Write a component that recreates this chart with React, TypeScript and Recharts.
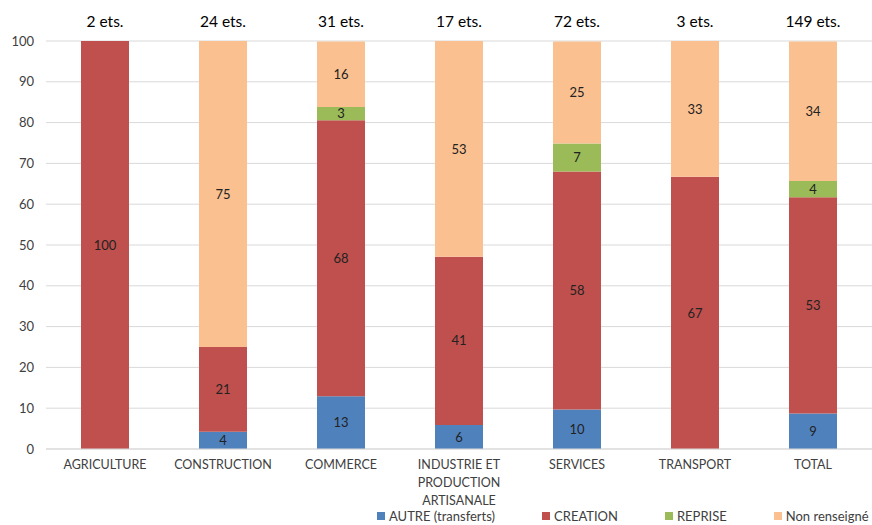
import React from 'react';
import { BarChart, Bar, XAxis, YAxis, CartesianGrid, Legend, LabelList } from 'recharts';

const categories = ['AGRICULTURE', 'CONSTRUCTION', 'COMMERCE', 'INDUSTRIE ET PRODUCTION ARTISANALE', 'SERVICES', 'TRANSPORT', 'TOTAL'];
const counts = [2, 24, 31, 17, 72, 3, 149];
const autre = [0, 4.2, 12.9, 5.9, 9.7, 0, 8.7];
const creation = [100, 20.8, 67.7, 41.2, 58.3, 66.7, 53.0];
const reprise = [0, 0, 3.2, 0, 6.9, 0, 4.0];
const nonRenseigne = [0, 75, 16.1, 52.9, 25, 33.3, 34.2];
const yTicks = [0, 10, 20, 30, 40, 50, 60, 70, 80, 90, 100];

const series = [
  { key: 'autre', name: 'AUTRE (transferts)', color: '#4F81BD' },
  { key: 'creation', name: 'CREATION', color: '#C0504D' },
  { key: 'reprise', name: 'REPRISE', color: '#9BBB59' },
  { key: 'nonRenseigne', name: 'Non renseigné', color: '#FAC090' },
];

const chartData = categories.map((cat, i) => ({
  name: cat,
  ets: counts[i] + ' ets.',
  autre: autre[i],
  creation: creation[i],
  reprise: reprise[i],
  nonRenseigne: nonRenseigne[i],
}));

const FONT = 'Lato, "Open Sans", sans-serif';

// libellés de catégorie sur plusieurs lignes
const CategoryTick = (props: any) => {
  const { x, y, payload } = props;
  const lines: string[] = payload.value === 'INDUSTRIE ET PRODUCTION ARTISANALE'
    ? ['INDUSTRIE ET', 'PRODUCTION', 'ARTISANALE']
    : [payload.value];
  return (
    <text x={x} y={y} textAnchor="middle" fill="#404040" fontSize={12.5} fontFamily={FONT}>
      {lines.map((l, i) => (
        <tspan key={i} x={x} dy={i === 0 ? 12 : 18}>{l}</tspan>
      ))}
    </text>
  );
};

const renderLegend = () => (
  <div style={{ display: 'flex', whiteSpace: 'nowrap', paddingLeft: 377, fontFamily: FONT, fontSize: 13, color: '#404040', lineHeight: '18px' }}>
    {series.map((s) => (
      <div key={s.key} style={{ display: 'flex', alignItems: 'center', marginRight: 47 }}>
        <span style={{ width: 8, height: 8, background: s.color, display: 'inline-block', marginRight: 4 }} />
        <span>{s.name}</span>
      </div>
    ))}
  </div>
);

const fmt = (v: any) => (v && v > 0 ? Math.round(v) : '');

export default function App() {
  return (
    <div style={{ position: 'absolute', left: 0, top: 0, background: '#fff' }}>
      <BarChart
        width={872}
        height={525}
        data={chartData}
        barCategoryGap={35}
        margin={{ top: 5, right: 0, left: 0, bottom: 0 }}
      >
        <CartesianGrid vertical={false} stroke="#d9d9d9" />
        <XAxis
          dataKey="name"
          xAxisId={0}
          interval={0}
          height={58}
          tickLine={false}
          axisLine={{ stroke: '#d9d9d9' }}
          tick={<CategoryTick />}
        />
        <XAxis
          dataKey="ets"
          xAxisId="top"
          orientation="top"
          interval={0}
          height={36}
          tickLine={false}
          axisLine={false}
          tickMargin={8}
          tick={{ fill: '#000', fontSize: 15.5, fontFamily: FONT }}
        />
        <YAxis
          domain={[0, 100]}
          ticks={yTicks}
          width={46}
          tickLine={false}
          axisLine={false}
          tickSize={0}
          tickMargin={12}
          tick={{ fill: '#404040', fontSize: 13, fontFamily: FONT }}
        />
        <Legend
          verticalAlign="bottom"
          height={18}
          content={renderLegend}
          wrapperStyle={{ left: 0, width: 872, bottom: 0 }}
        />
        {series.map((s) => (
          <Bar key={s.key} dataKey={s.key} name={s.name} stackId="a" fill={s.color} isAnimationActive={false}>
            <LabelList dataKey={s.key} position="center" formatter={fmt} fill="#222" fontSize={13} fontFamily={FONT} />
          </Bar>
        ))}
      </BarChart>
    </div>
  );
}
